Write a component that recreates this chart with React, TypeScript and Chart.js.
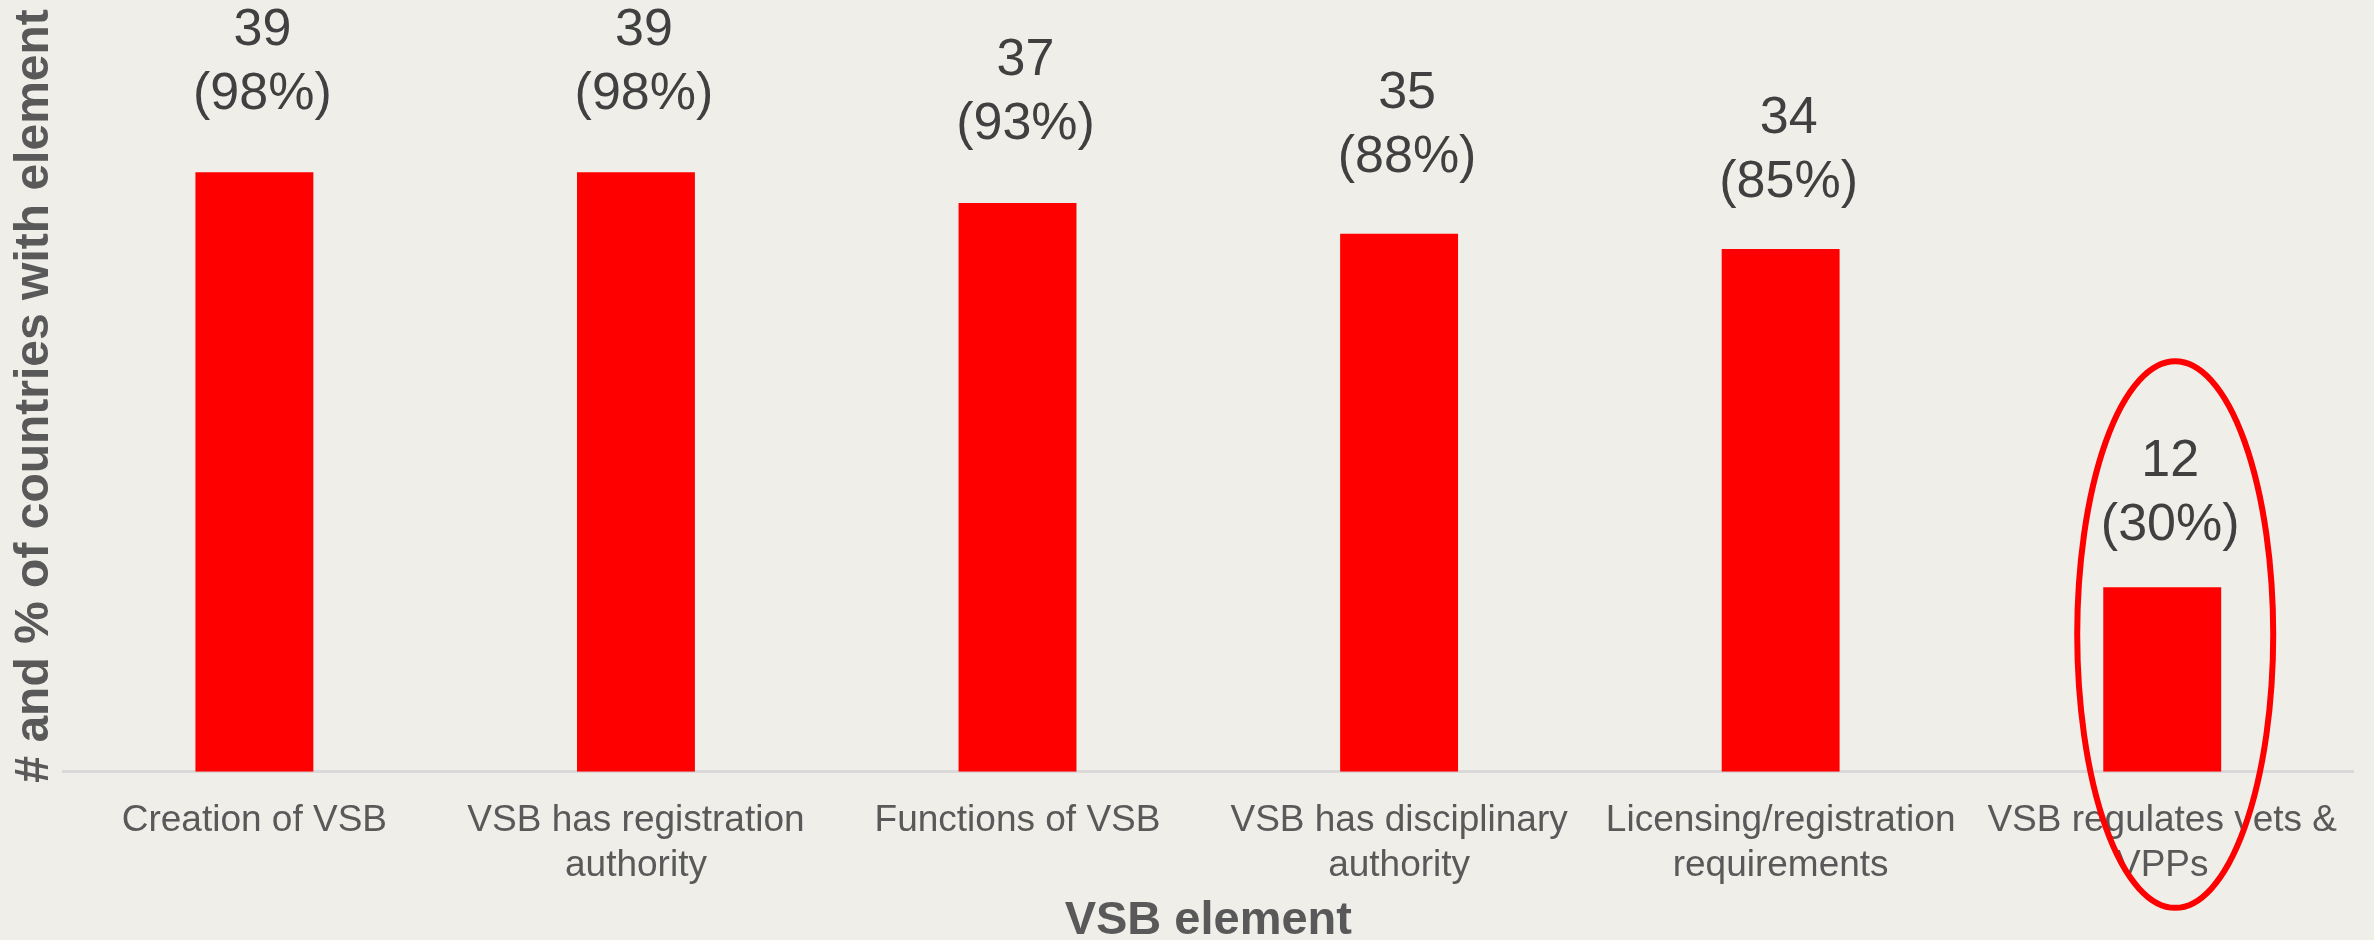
import React, { useEffect, useRef } from "react";
import { Chart, registerables } from "chart.js";

Chart.register(...registerables);

const categories: string[][] = [
  ["Creation of VSB"],
  ["VSB has registration", "authority"],
  ["Functions of VSB"],
  ["VSB has disciplinary", "authority"],
  ["Licensing/registration", "requirements"],
  ["VSB regulates vets &", "VPPs"],
];
const counts: number[] = [39, 39, 37, 35, 34, 12];
const percents: number[] = [98, 98, 93, 88, 85, 30];
const highlightIndex = 5;
const yAxisTitle = "# and % of countries with element";
const xAxisTitle = "VSB element";

const FONT = "'Liberation Sans', Arial, sans-serif";
const BG = "#efeee9";

// vertical gap (px) between each bar top and the centre of its lower label line
const LABEL_GAPS = [78, 78, 78, 76, 66, 62];

const valueLabelPlugin = {
  id: "valueLabels",
  afterDatasetsDraw(chart: any) {
    const ctx = chart.ctx;
    const meta = chart.getDatasetMeta(0);
    ctx.save();
    ctx.font = `52px ${FONT}`;
    ctx.fillStyle = "#404040";
    ctx.textAlign = "center";
    ctx.textBaseline = "middle";
    meta.data.forEach((bar: any, i: number) => {
      const x = bar.x + 8;
      const lower = bar.y - LABEL_GAPS[i];
      ctx.fillText(`(${percents[i]}%)`, x, lower);
      ctx.fillText(`${counts[i]}`, x, lower - 64);
    });
    ctx.restore();
  },
};

const ellipsePlugin = {
  id: "highlightEllipse",
  afterDraw(chart: any) {
    const ctx = chart.ctx;
    const bar = chart.getDatasetMeta(0).data[highlightIndex];
    const yScale = chart.scales.y;
    if (!bar) return;
    const top = yScale.getPixelForValue(26.7);
    const bottom = chart.chartArea.bottom + 136;
    const cx = bar.x + 13;
    const cy = (top + bottom) / 2;
    ctx.save();
    ctx.strokeStyle = "#ff0000";
    ctx.lineWidth = 6;
    ctx.beginPath();
    ctx.ellipse(cx, cy, 98, (bottom - top) / 2, 0, 0, Math.PI * 2);
    ctx.stroke();
    ctx.restore();
  },
};

export default function App() {
  const ref = useRef<HTMLCanvasElement | null>(null);
  useEffect(() => {
    document.body.style.margin = "0";
    document.body.style.background = BG;
    const canvas = ref.current!;
    const chart = new Chart(canvas, {
      type: "bar",
      data: {
        labels: categories,
        datasets: [
          {
            data: counts,
            backgroundColor: "#ff0000",
            borderWidth: 0,
            categoryPercentage: 1,
            barPercentage: 0.309,
          },
        ],
      },
      options: {
        responsive: false,
        animation: false,
        layout: { padding: { left: 0, right: 21, top: 20, bottom: 0 } },
        plugins: {
          legend: { display: false },
          tooltip: { enabled: false },
        },
        scales: {
          x: {
            grid: { display: false, drawTicks: false },
            border: { display: true, color: "#d9d9d9", width: 3 },
            ticks: {
              autoSkip: false,
              maxRotation: 0,
              minRotation: 0,
              padding: 27,
              color: "#595959",
              font: { family: FONT, size: 37, lineHeight: 1.2 },
            },
            title: {
              display: true,
              text: xAxisTitle,
              color: "#595959",
              font: { family: FONT, size: 47, weight: "bold", lineHeight: 1.05 },
              padding: { top: -18, bottom: -6 },
            },
          },
          y: {
            min: 0,
            max: 48.9,
            grid: { display: false, drawTicks: false },
            border: { display: false },
            ticks: { display: false },
            title: {
              display: true,
              text: yAxisTitle,
              color: "#595959",
              font: { family: FONT, size: 48, weight: "bold", lineHeight: 1.2 },
              padding: { top: 6, bottom: 0 },
            },
          },
        },
      },
      plugins: [valueLabelPlugin, ellipsePlugin],
    });
    return () => chart.destroy();
  }, []);
  return (
    <div style={{ position: "fixed", left: 0, top: 0, width: 2374, height: 940, background: BG }}>
      <canvas ref={ref} width={2374} height={940} style={{ display: "block" }} />
    </div>
  );
}
